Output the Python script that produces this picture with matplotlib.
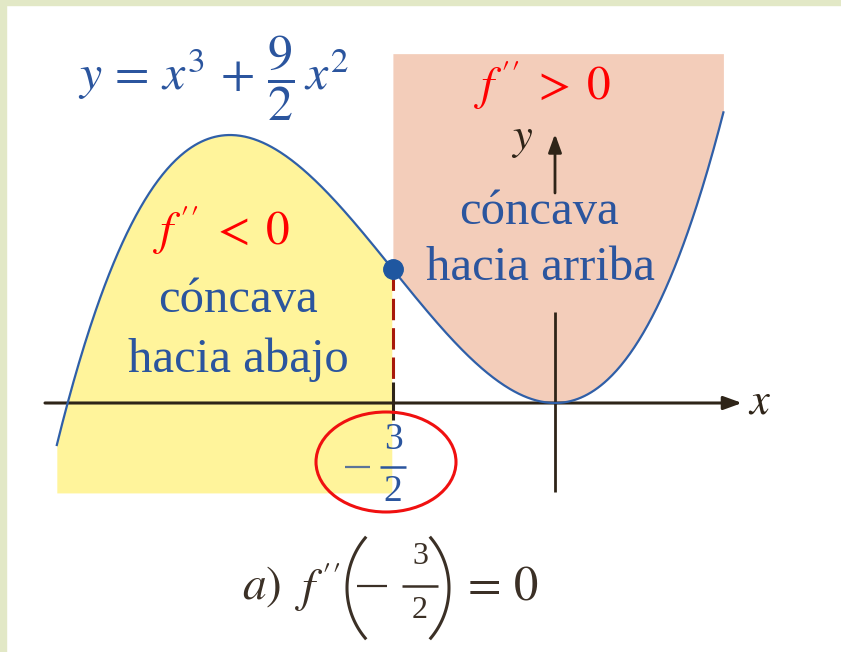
import numpy as np
import matplotlib
matplotlib.use("Agg")
import matplotlib.pyplot as plt
from matplotlib.patches import Rectangle, Ellipse

plt.rcParams['mathtext.fontset'] = 'stix'
plt.rcParams['font.family'] = ['Liberation Serif', 'DejaVu Serif']

# ---- data: y = x^3 + (9/2) x^2 ----
coef_cubic = 1.0
coef_quad = 4.5
x_start = -4.6
x_end = 1.555
x_inflection = -1.5
fill_bottom = -4.53
fill_top = 17.6

x = np.linspace(x_start, x_end, 600)
y = coef_cubic * x**3 + coef_quad * x**2
y_infl = coef_cubic * x_inflection**3 + coef_quad * x_inflection**2

# ---- pixel helpers (layout only) ----
X0, Y0, SX, SY = 555, 403, 108.3, 19.85
def px(p): return (np.asarray(p) - X0) / SX
def py(p): return (Y0 - np.asarray(p)) / SY

fig = plt.figure(figsize=(8.41, 6.52), dpi=100)
ax = fig.add_axes([0, 0, 1, 1])
ax.axis('off')
ax.set_xlim(px(0), px(841))
ax.set_ylim(py(652), py(0))

# border
fig.patches.append(Rectangle((0, 1 - 5/652), 1, 5/652, transform=fig.transFigure,
                             color='#E2E8C6', zorder=0))
fig.patches.append(Rectangle((0, 0), 6/841, 1, transform=fig.transFigure,
                             color='#E2E8C6', zorder=0))

BLUE = '#2B559E'
AX = '#2E2418'
CAP = '#3B3026'
YEL = '#FFF49B'
PINK = '#F3CDBA'

# fills
m_left = x <= x_inflection
ax.fill_between(x[m_left], fill_bottom, y[m_left], color=YEL, lw=0, zorder=1)
m_right = x >= x_inflection
ax.fill_between(x[m_right], y[m_right], fill_top, color=PINK, lw=0, zorder=1)

# axes
ax.annotate('', xy=(px(742), 0), xytext=(px(45), 0),
            arrowprops=dict(arrowstyle='-|>,head_length=1.1,head_width=0.4',
                            color=AX, lw=2.2, shrinkA=0, shrinkB=0), zorder=3)
ax.plot([0, 0], [py(492), py(312)], color=AX, lw=2.0, zorder=3, solid_capstyle='butt')
ax.annotate('', xy=(0, py(134)), xytext=(0, py(193)),
            arrowprops=dict(arrowstyle='-|>,head_length=1.1,head_width=0.4',
                            color=AX, lw=2.0, shrinkA=0, shrinkB=0), zorder=3)
# tick at inflection
ax.plot([x_inflection, x_inflection], [py(382), py(420)], color=AX, lw=2.2, zorder=3,
        solid_capstyle='butt')
# dashed red line
ax.plot([x_inflection, x_inflection], [y_infl, py(382)], color='#A8190A', lw=2.2,
        dashes=(7, 2.6), zorder=3)

# curve
ax.plot(x, y, color='#2F5FA8', lw=1.6, zorder=4)
ax.plot([x_inflection], [y_infl], 'o', color='#1F57A0', ms=14, zorder=5)

# ellipse
ax.add_patch(Ellipse((px(386), py(462)), 140/SX, 100/SY, fill=False,
                     edgecolor='#F01010', lw=2.2, zorder=5))

# texts
ax.text(px(213), py(78), r'$y\,=\,x^3\,+\,\dfrac{9}{2}\,x^2$', color=BLUE, fontsize=36,
        ha='center', va='center', zorder=6)
ax.text(px(222), py(230), r"$f\,''\;<\;0$", color='#FF0000', fontsize=34,
        ha='center', va='center', zorder=6)
ax.text(px(543), py(85), r"$f\,''\;>\;0$", color='#FF0000', fontsize=34,
        ha='center', va='center', zorder=6)
ax.text(px(238), py(300), 'cóncava', color=BLUE, fontsize=35,
        ha='center', va='center', zorder=6)
ax.text(px(238), py(360), 'hacia abajo', color=BLUE, fontsize=35,
        ha='center', va='center', zorder=6)
ax.text(px(539), py(212), 'cóncava', color=BLUE, fontsize=35,
        ha='center', va='center', zorder=6)
ax.text(px(540), py(268), 'hacia arriba', color=BLUE, fontsize=35,
        ha='center', va='center', zorder=6)
ax.text(px(522), py(140), r'$y$', color=AX, fontsize=32, ha='center', va='center', zorder=6)
ax.text(px(760), py(402), r'$x$', color=AX, fontsize=32, ha='center', va='center', zorder=6)

# -3/2 label under the axis
ax.plot([px(345), px(370)], [py(467), py(467)], color='#5C7498', lw=1.6, zorder=6,
        solid_capstyle='butt')
ax.plot([px(380), px(406)], [py(467), py(467)], color=BLUE, lw=1.8, zorder=6,
        solid_capstyle='butt')
ax.text(px(393), py(440), '3', color=BLUE, fontsize=27, ha='center', va='center', zorder=6)
ax.text(px(393), py(492), '2', color=BLUE, fontsize=27, ha='center', va='center', zorder=6)

# caption: a) f''(-3/2) = 0
ax.text(px(262), py(587), r"$a)$", color=CAP, fontsize=34, ha='center', va='center', zorder=6)
ax.text(px(318), py(587), r"$f\,''$", color=CAP, fontsize=34, ha='center', va='center', zorder=6)
R = 78
t = np.radians(np.linspace(-40, 40, 60))
ax.plot(px(347 + R - R * np.cos(t)), py(588 + R * np.sin(t)), color=CAP, lw=2.2, zorder=6)
ax.plot(px(449 - R + R * np.cos(t)), py(588 + R * np.sin(t)), color=CAP, lw=2.2, zorder=6)
ax.plot([px(357), px(387)], [py(586), py(586)], color=CAP, lw=1.6, zorder=6,
        solid_capstyle='butt')
ax.plot([px(402), px(438)], [py(586), py(586)], color=CAP, lw=1.8, zorder=6,
        solid_capstyle='butt')
ax.text(px(420), py(557), '3', color=CAP, fontsize=23, ha='center', va='center', zorder=6)
ax.text(px(420), py(611), '2', color=CAP, fontsize=23, ha='center', va='center', zorder=6)
ax.text(px(499), py(587), r"$=\,0$", color=CAP, fontsize=35, ha='center', va='center', zorder=6)

fig.savefig('out.png', dpi=100)
